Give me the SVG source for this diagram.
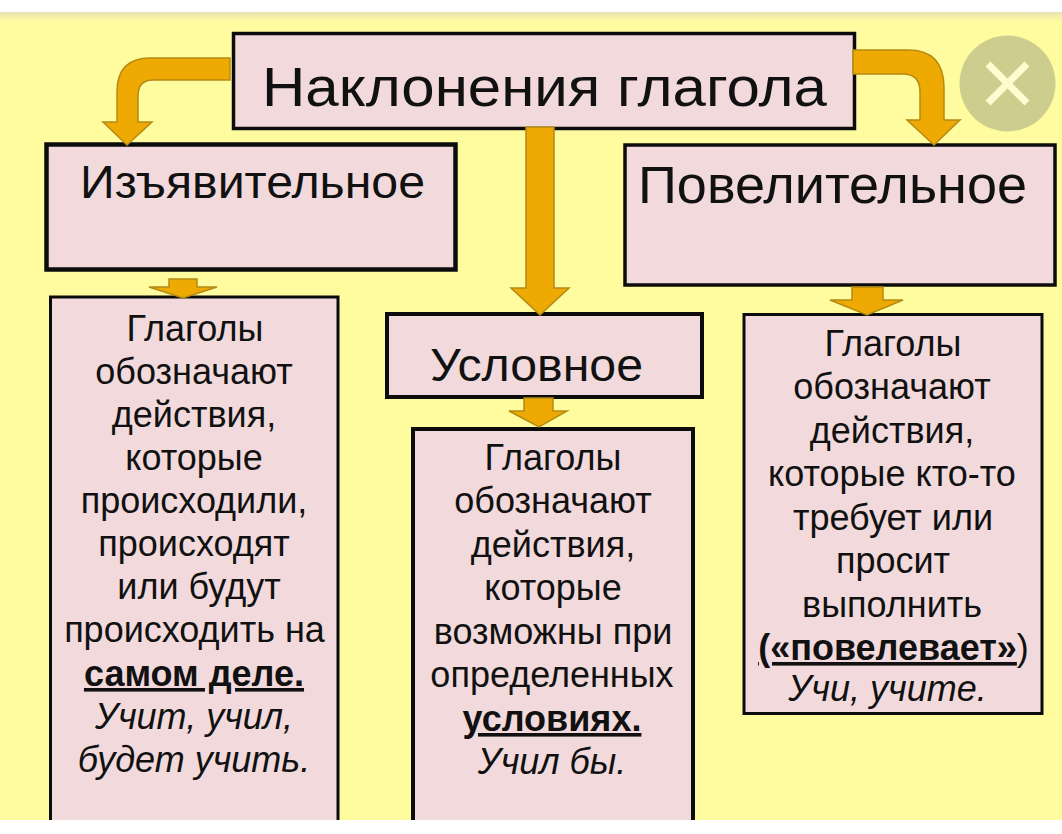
<svg xmlns="http://www.w3.org/2000/svg" width="1062" height="834" viewBox="0 0 1062 834">
<defs>
<linearGradient id="topshade" x1="0" y1="0" x2="0" y2="1"><stop offset="0" stop-color="#e6e3b4"/><stop offset="1" stop-color="#fffc9f"/></linearGradient>
</defs>
<style>
.box{fill:#f2dadc;stroke:#0c0c0c}
.arrow{fill:#efa903;stroke:#b48a14;stroke-width:1.5;stroke-linejoin:miter}
text{font-family:"Liberation Sans",Arial,sans-serif;fill:#111;text-anchor:middle}
.t{font-size:36px}
.b{font-weight:bold;text-decoration:underline}
.i{font-style:italic}
</style>
<rect width="1062" height="834" fill="#ffffff"/>
<rect x="0" y="12" width="1062" height="808" fill="#fffc9f"/>
<rect x="0" y="12" width="1062" height="10" fill="url(#topshade)"/>
<g id="node-title">
<rect class="box" x="233.500" y="33.500" width="621" height="95" stroke-width="3.500"/>
<text x="544.500" y="106" font-size="56" textLength="565" lengthAdjust="spacingAndGlyphs">Наклонения глагола</text>
</g>
<g id="node-indicative">
<rect class="box" x="46.500" y="144.500" width="409" height="125" stroke-width="4.500"/>
<text x="252.500" y="198" font-size="47" textLength="345" lengthAdjust="spacingAndGlyphs">Изъявительное</text>
</g>
<g id="node-imperative">
<rect class="box" x="625" y="145" width="430" height="140" stroke-width="3.500"/>
<text x="832.500" y="203" font-size="51" textLength="389" lengthAdjust="spacingAndGlyphs">Повелительное</text>
</g>
<g id="node-conditional">
<rect class="box" x="387" y="314" width="315" height="83" stroke-width="4"/>
<text x="536.500" y="381" font-size="47" textLength="213" lengthAdjust="spacingAndGlyphs">Условное</text>
</g>
<g id="node-indicative-text">
<path class="box" d="M50.500 820V297H338V820" stroke-width="3"/>
<text class="t" x="195" y="341">Глаголы</text>
<text class="t" x="194" y="384">обозначают</text>
<text class="t" x="194" y="427">действия,</text>
<text class="t" x="194" y="470">которые</text>
<text class="t" x="194" y="513">происходили,</text>
<text class="t" x="194" y="556">происходят</text>
<text class="t" x="199" y="599">или будут</text>
<text class="t" x="194.500" y="642">происходить на</text>
<text class="t b" x="194" y="686">самом деле.</text>
<text class="t i" x="194" y="729">Учит, учил,</text>
<text class="t i" x="194" y="772">будет учить.</text>
</g>
<g id="node-conditional-text">
<path class="box" d="M413 820V429H693V820" stroke-width="4"/>
<text class="t" x="553" y="470">Глаголы</text>
<text class="t" x="553" y="513">обозначают</text>
<text class="t" x="553" y="557">действия,</text>
<text class="t" x="553" y="600">которые</text>
<text class="t" x="553" y="644">возможны при</text>
<text class="t" x="552" y="687">определенных</text>
<text class="t b" x="552" y="731">условиях.</text>
<text class="t i" x="552" y="774">Учил бы.</text>
</g>
<g id="node-imperative-text">
<rect class="box" x="744" y="314.500" width="298" height="399" stroke-width="3"/>
<text class="t" x="893" y="356">Глаголы</text>
<text class="t" x="892" y="399">обозначают</text>
<text class="t" x="892" y="443">действия,</text>
<text class="t" x="892" y="486">которые кто-то</text>
<text class="t" x="893" y="530">требует или</text>
<text class="t" x="893" y="573">просит</text>
<text class="t" x="892" y="617">выполнить</text>
<text class="t" x="893.500" y="660"><tspan class="b">(«повелевает»</tspan>)</text>
<text class="t i" x="887.500" y="701">Учи, учите.</text>
</g>
<g id="connectors">
<path class="arrow" d="M230 58H150Q117 58 117 92V122H103L127 145L152 122H138V96Q138 80 153 80H230Z"/>
<path class="arrow" d="M853 50H908Q944 50 944 88V120H960L934 145L907 120H920V92Q920 74 903 74H853Z"/>
<path class="arrow" d="M526 127H554V288H569L540 315L511 288H526Z"/>
<path class="arrow" d="M169 279H197V287H217L183 298L149 287H169Z"/>
<path class="arrow" d="M852 287H883V300H903L867 315L830 300H852Z"/>
<path class="arrow" d="M524 398H553V411H567L539 427L509 411H524Z"/>
</g>
<g id="close-button">
<circle cx="1007.500" cy="83.500" r="48" fill="#cdcd8e"/>
<path d="M988 64L1027 103M1027 64L988 103" stroke="#fdfbd0" stroke-width="7" fill="none"/>
</g>
</svg>
